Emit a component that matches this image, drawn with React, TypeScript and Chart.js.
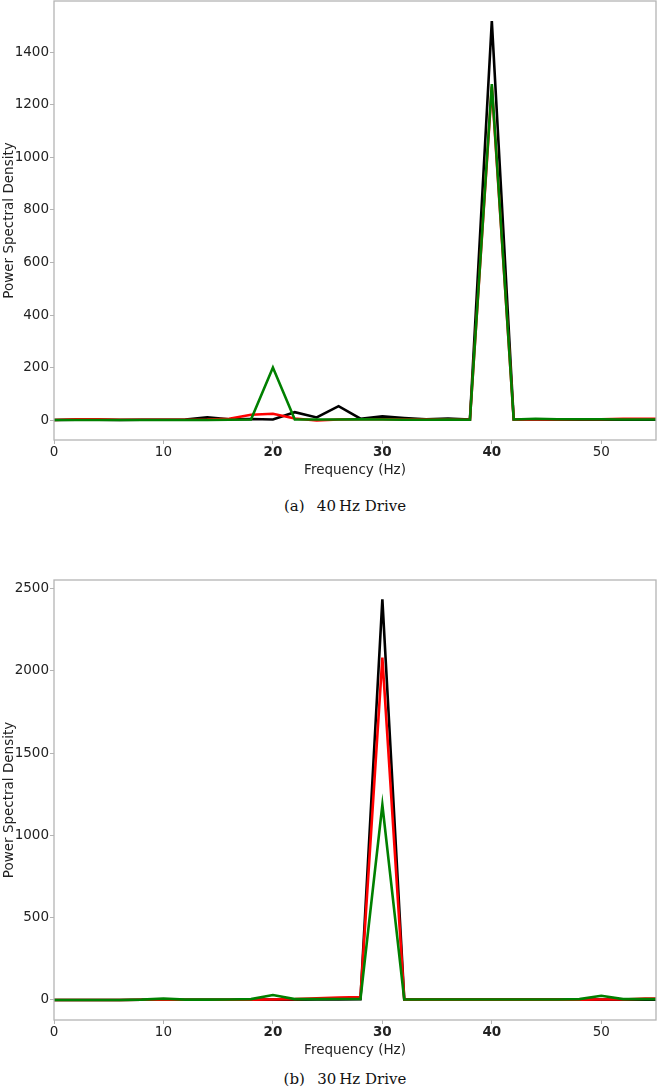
import React, { useEffect, useRef } from "react";
import { Chart, registerables } from "chart.js";

Chart.register(...registerables);

const freqs = [0, 2, 4, 6, 8, 10, 12, 14, 16, 18, 20, 22, 24, 26, 28, 30, 32, 34, 36, 38, 40, 42, 44, 46, 48, 50, 52, 54, 56];

// (a) 40 Hz drive
const aBlack = [0, 1, 1, 0, 1, 1, 2, 10, 3, 4, 2, 30, 10, 53, 5, 14, 8, 3, 6, 2, 1520, 2, 2, 1, 2, 1, 1, 1, 1];
const aRed = [0, 3, 3, 1, 1, 1, 1, 2, 5, 20, 24, 6, -2, 2, 3, 3, 2, 2, 2, 1, 1270, 2, 2, 2, 3, 3, 5, 5, 5];
const aGreen = [0, 0, 0, 0, 0, 0, 0, 0, 1, 2, 200, 2, 2, 2, 3, 2, 1, 1, 2, 1, 1280, 2, 5, 3, 3, 3, 2, 2, 2];

// (b) 30 Hz drive
const bBlack = [0, 0, 0, 0, 1, 1, 1, 1, 1, 2, 2, 2, 3, 3, 5, 2435, 3, 2, 2, 2, 2, 2, 2, 2, 2, 2, 2, 2, 2];
const bRed = [0, 0, 0, 0, 1, 2, 1, 1, 1, 2, 3, 5, 10, 14, 18, 2080, 3, 2, 2, 2, 2, 2, 2, 2, 2, 3, 3, 8, 10];
const bGreen = [0, 0, 0, 0, 2, 8, 2, 2, 3, 5, 30, 5, 5, 6, 6, 1185, 3, 3, 3, 3, 3, 3, 3, 3, 5, 25, 5, 5, 5];

const xTicks = [0, 10, 20, 30, 40, 50];
const xTicksBold = [20, 30, 40];
const aYTicks = [0, 200, 400, 600, 800, 1000, 1200, 1400];
const bYTicks = [0, 500, 1000, 1500, 2000, 2500];
const aYRange = [-76, 1596];
const bYRange = [-122, 2552];

const boxPlugin = {
  id: "box",
  afterDraw(chart: any) {
    const { ctx, chartArea } = chart;
    const { left, top, right, bottom } = chartArea;
    ctx.save();
    ctx.strokeStyle = "#b4b4b4";
    ctx.lineWidth = 1.3;
    ctx.strokeRect(left, top, right - left, bottom - top);
    ctx.restore();
  },
};

function PsdChart(props: {
  black: number[];
  red: number[];
  green: number[];
  yRange: number[];
  yTicks: number[];
  padTop: number;
  height: number;
}) {
  const ref = useRef<HTMLCanvasElement | null>(null);
  useEffect(() => {
    if (!ref.current) return;
    const mk = (vals: number[]) => vals.map((v, i) => ({ x: freqs[i], y: v }));
    const ds = (label: string, vals: number[], color: string) => ({
      label,
      data: mk(vals),
      borderColor: color,
      backgroundColor: color,
      borderWidth: 2.6,
      pointRadius: 0,
      tension: 0,
      fill: false,
    });
    const tickFont = "'DejaVu Sans', sans-serif";
    const chart = new Chart(ref.current, {
      type: "line",
      data: {
        datasets: [
          ds("green", props.green, "#008000"),
          ds("red", props.red, "#ff0000"),
          ds("black", props.black, "#000000"),
        ],
      },
      options: {
        animation: false,
        responsive: false,
        maintainAspectRatio: false,
        layout: { padding: { top: props.padTop, right: 1, left: 0, bottom: 0 } },
        plugins: { legend: { display: false }, tooltip: { enabled: false } },
        scales: {
          x: {
            type: "linear",
            min: 0,
            max: 55,
            afterFit: (s: any) => {
              s.height = 40;
              s.paddingLeft = 0;
              s.paddingRight = 0;
            },
            afterBuildTicks: (s: any) => {
              s.ticks = xTicks.map((v) => ({ value: v }));
            },
            border: { display: false },
            grid: { drawOnChartArea: false, drawTicks: true, tickLength: 4, color: "#b4b4b4" },
            ticks: {
              maxRotation: 0,
              autoSkip: false,
              padding: 0,
              color: "#222222",
              callback: (v: any) => String(v),
              font: (c: any) => ({
                family: tickFont,
                size: 13.5,
                weight: c.tick && xTicksBold.includes(c.tick.value) ? "bold" : "normal",
              }),
            },
            title: {
              display: true,
              text: "Frequency (Hz)",
              color: "#222222",
              font: { family: tickFont, size: 13.5 },
              padding: { top: 0, bottom: 1 },
            },
          },
          y: {
            type: "linear",
            min: props.yRange[0],
            max: props.yRange[1],
            afterFit: (s: any) => {
              s.width = 54;
              s.paddingTop = 0;
              s.paddingBottom = 0;
            },
            afterBuildTicks: (s: any) => {
              s.ticks = props.yTicks.map((v) => ({ value: v }));
            },
            border: { display: false },
            grid: { drawOnChartArea: false, drawTicks: true, tickLength: 4, color: "#b4b4b4" },
            ticks: {
              autoSkip: false,
              padding: 1,
              color: "#222222",
              callback: (v: any) => String(v),
              font: { family: tickFont, size: 13.5 },
            },
            title: {
              display: true,
              text: "Power Spectral Density",
              color: "#222222",
              font: { family: tickFont, size: 13.5 },
              padding: { top: 1, bottom: 0 },
            },
          },
        },
      },
      plugins: [boxPlugin],
    } as any);
    return () => chart.destroy();
  }, []);
  return <canvas ref={ref} width={657} height={props.height} style={{ display: "block", width: 657, height: props.height }} />;
}

const captionStyle: React.CSSProperties = {
  position: "absolute",
  left: 44,
  width: 602,
  textAlign: "center",
  fontFamily: "'DejaVu Serif', 'Liberation Serif', serif",
  fontSize: 15,
  color: "#111",
  lineHeight: "18px",
  whiteSpace: "pre",
};

export default function App() {
  return (
    <div style={{ position: "absolute", left: 0, top: 0, width: 657, height: 1092, background: "#fff" }}>
      <div style={{ position: "absolute", left: 0, top: 0 }}>
        <PsdChart black={aBlack} red={aRed} green={aGreen} yRange={aYRange} yTicks={aYTicks} padTop={1} height={480} />
      </div>
      <div style={{ ...captionStyle, top: 497 }}>{"(a)\u2002 40\u2009Hz Drive"}</div>
      <div style={{ position: "absolute", left: 0, top: 560 }}>
        <PsdChart black={bBlack} red={bRed} green={bGreen} yRange={bYRange} yTicks={bYTicks} padTop={20} height={500} />
      </div>
      <div style={{ ...captionStyle, top: 1070 }}>{"(b)\u2002 30\u2009Hz Drive"}</div>
    </div>
  );
}
